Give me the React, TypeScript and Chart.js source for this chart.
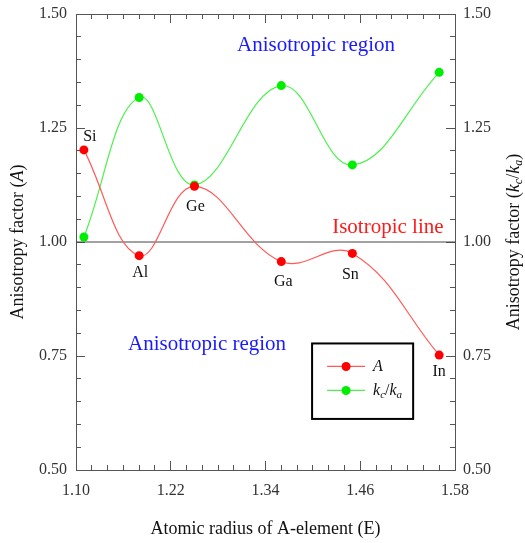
import React, { useEffect, useRef } from 'react';
import { Chart, registerables } from 'chart.js';

Chart.register(...registerables);

// ---- data ----
const elements = ['Si', 'Al', 'Ge', 'Ga', 'Sn', 'In'];
const atomicRadius = [1.11, 1.18, 1.25, 1.36, 1.45, 1.56];
const anisotropyA = [1.202, 0.970, 1.122, 0.957, 0.975, 0.752];
const anisotropyK = [1.011, 1.317, 1.125, 1.343, 1.169, 1.372];
const isoX = [1.10, 1.58];
const isoY = [1.0, 1.0];
const xMajorTicks = [1.10, 1.22, 1.34, 1.46, 1.58];
const yMajorTicks = [0.50, 0.75, 1.00, 1.25, 1.50];

const FONT = "'Liberation Serif', 'Times New Roman', serif";
const AXIS = '#555';

type Part = { t: string; i?: boolean; sub?: boolean };

function drawRich(ctx: CanvasRenderingContext2D, parts: Part[], x: number, y: number, size: number, align: 'center' | 'left' = 'center') {
  const fontFor = (p: Part) => `${p.i ? 'italic ' : ''}${p.sub ? Math.round(size * 0.68) : size}px ${FONT}`;
  let w = 0;
  for (const p of parts) {
    ctx.font = fontFor(p);
    w += ctx.measureText(p.t).width;
  }
  let cx = align === 'center' ? x - w / 2 : x;
  ctx.textBaseline = 'middle';
  ctx.textAlign = 'left';
  for (const p of parts) {
    ctx.font = fontFor(p);
    ctx.fillText(p.t, cx, y + (p.sub ? size * 0.28 : 0));
    cx += ctx.measureText(p.t).width;
  }
}

const titleA: Part[] = [{ t: 'Anisotropy factor (' }, { t: 'A', i: true }, { t: ')' }];
const titleK: Part[] = [
  { t: 'Anisotropy factor (' },
  { t: 'k', i: true },
  { t: 'c', i: true, sub: true },
  { t: '/' },
  { t: 'k', i: true },
  { t: 'a', i: true, sub: true },
  { t: ')' },
];
const legendParts: Part[][] = [
  [{ t: 'A', i: true }],
  [{ t: 'k', i: true }, { t: 'c', i: true, sub: true }, { t: '/' }, { t: 'k', i: true }, { t: 'a', i: true, sub: true }],
];

const decorPlugin = {
  id: 'decor',
  afterDatasetsDraw(chart: any) {
    const ctx: CanvasRenderingContext2D = chart.ctx;
    const xs = chart.scales.x;
    const ys = chart.scales.y;
    const ca = chart.chartArea;
    ctx.save();

    // point labels
    const offsets = [[6, -13], [1, 17], [1, 20], [2, 20], [-2, 21], [0, 17]];
    const meta = chart.getDatasetMeta(0);
    ctx.fillStyle = '#111';
    ctx.font = `16px ${FONT}`;
    ctx.textAlign = 'center';
    ctx.textBaseline = 'middle';
    meta.data.forEach((el: any, i: number) => {
      ctx.fillText(elements[i], el.x + offsets[i][0], el.y + offsets[i][1]);
    });

    // annotations
    ctx.font = `21px ${FONT}`;
    ctx.fillStyle = '#1a1aff';
    ctx.fillText('Anisotropic region', xs.getPixelForValue(1.404), ys.getPixelForValue(1.432));
    ctx.fillText('Anisotropic region', xs.getPixelForValue(1.266), ys.getPixelForValue(0.775));
    ctx.fillStyle = '#ff1a1a';
    ctx.fillText('Isotropic line', xs.getPixelForValue(1.495), ys.getPixelForValue(1.031));

    // axis titles
    ctx.fillStyle = '#111';
    ctx.font = `18px ${FONT}`;
    ctx.textAlign = 'center';
    ctx.fillText('Atomic radius of A-element (E)', (ca.left + ca.right) / 2, 529);
    const cy = (ca.top + ca.bottom) / 2;
    ctx.save();
    ctx.translate(18, cy);
    ctx.rotate(-Math.PI / 2);
    drawRich(ctx, titleA, 0, 0, 18);
    ctx.restore();
    ctx.save();
    ctx.translate(514, cy);
    ctx.rotate(-Math.PI / 2);
    drawRich(ctx, titleK, 0, 0, 18);
    ctx.restore();

    // legend
    const lx0 = xs.getPixelForValue(1.399);
    const lx1 = xs.getPixelForValue(1.527);
    const ly0 = ys.getPixelForValue(0.7775);
    const ly1 = ys.getPixelForValue(0.612);
    ctx.fillStyle = '#fff';
    ctx.fillRect(lx0, ly0, lx1 - lx0, ly1 - ly0);
    ctx.strokeStyle = '#000';
    ctx.lineWidth = 2;
    ctx.strokeRect(lx0, ly0, lx1 - lx0, ly1 - ly0);
    [0, 1].forEach((di) => {
      const ds = chart.data.datasets[di];
      const ry = ly0 + 23 + di * 24;
      const sx0 = lx0 + 15;
      const sx1 = lx0 + 53;
      ctx.strokeStyle = ds.borderColor;
      ctx.lineWidth = 1.2;
      ctx.beginPath();
      ctx.moveTo(sx0, ry);
      ctx.lineTo(sx1, ry);
      ctx.stroke();
      ctx.fillStyle = ds.pointBackgroundColor;
      ctx.beginPath();
      ctx.arc((sx0 + sx1) / 2, ry, 4.5, 0, Math.PI * 2);
      ctx.fill();
      ctx.fillStyle = '#111';
      drawRich(ctx, legendParts[di], lx0 + 61, ry, 16, 'left');
    });

    ctx.restore();
  },
};

function fixSize(s: any, horizontal: boolean, size: number) {
  if (horizontal) s.height = size;
  else s.width = size;
  s.paddingTop = 0;
  s.paddingBottom = 0;
  s.paddingLeft = 0;
  s.paddingRight = 0;
}

function majorAxis(position: string, min: number, max: number, ticks: number[], size: number, showLabels: boolean, padding: number) {
  const horizontal = position === 'top' || position === 'bottom';
  return {
    type: 'linear',
    position,
    min,
    max,
    weight: 1,
    afterBuildTicks: (s: any) => {
      s.ticks = ticks.map((v) => ({ value: v }));
    },
    ticks: {
      display: showLabels,
      autoSkip: false,
      maxRotation: 0,
      padding,
      color: '#333',
      font: { family: FONT, size: 16 },
      callback: (v: any) => Number(v).toFixed(2),
    },
    grid: { drawOnChartArea: false, drawTicks: true, tickLength: -9, color: AXIS, lineWidth: 1 },
    border: { display: true, color: AXIS, width: 1 },
    afterFit: (s: any) => fixSize(s, horizontal, size),
  };
}

function minorAxis(position: string, min: number, max: number, step: number) {
  const horizontal = position === 'top' || position === 'bottom';
  return {
    type: 'linear',
    position,
    min,
    max,
    weight: 0,
    ticks: { display: false, stepSize: step, maxTicksLimit: 1000, autoSkip: false, padding: 0 },
    grid: { drawOnChartArea: false, drawTicks: true, tickLength: -5, color: AXIS, lineWidth: 1 },
    border: { display: false },
    afterFit: (s: any) => fixSize(s, horizontal, 0),
  };
}

export default function App() {
  const ref = useRef<HTMLCanvasElement | null>(null);

  useEffect(() => {
    document.body.style.margin = '0';
    if (!ref.current) return;
    const chart = new Chart(ref.current, {
      type: 'line',
      data: {
        datasets: [
          {
            label: 'A',
            data: atomicRadius.map((x, i) => ({ x, y: anisotropyA[i] })),
            borderColor: '#ff5a5a',
            borderWidth: 1.2,
            pointBackgroundColor: '#ff0000',
            pointBorderColor: '#ff0000',
            pointRadius: 4.5,
            pointBorderWidth: 0,
            tension: 0.4,
            order: 1,
          },
          {
            label: 'kc/ka',
            data: atomicRadius.map((x, i) => ({ x, y: anisotropyK[i] })),
            borderColor: '#4ef04e',
            borderWidth: 1.2,
            pointBackgroundColor: '#00ee00',
            pointBorderColor: '#00ee00',
            pointRadius: 4.5,
            pointBorderWidth: 0,
            tension: 0.4,
            order: 2,
          },
          {
            label: 'iso',
            data: isoX.map((x, i) => ({ x, y: isoY[i] })),
            borderColor: '#444',
            borderWidth: 1,
            pointRadius: 0,
            tension: 0,
            order: 3,
          },
        ],
      } as any,
      options: {
        responsive: false,
        animation: false,
        layout: { padding: 0 },
        plugins: { legend: { display: false }, tooltip: { enabled: false } },
        scales: {
          x: majorAxis('bottom', 1.10, 1.58, xMajorTicks, 73, true, 20),
          xMinor: minorAxis('bottom', 1.10, 1.58, 0.02),
          xTop: majorAxis('top', 1.10, 1.58, xMajorTicks, 14, false, 0),
          xTopMinor: minorAxis('top', 1.10, 1.58, 0.02),
          y: majorAxis('left', 0.5, 1.5, yMajorTicks, 76, true, 18),
          yMinor: minorAxis('left', 0.5, 1.5, 0.05),
          y2: majorAxis('right', 0.5, 1.5, yMajorTicks, 70, true, 17),
          y2Minor: minorAxis('right', 0.5, 1.5, 0.05),
        } as any,
      },
      plugins: [decorPlugin],
    });
    return () => chart.destroy();
  }, []);

  return <canvas ref={ref} width={525} height={543} style={{ display: 'block' }} />;
}
